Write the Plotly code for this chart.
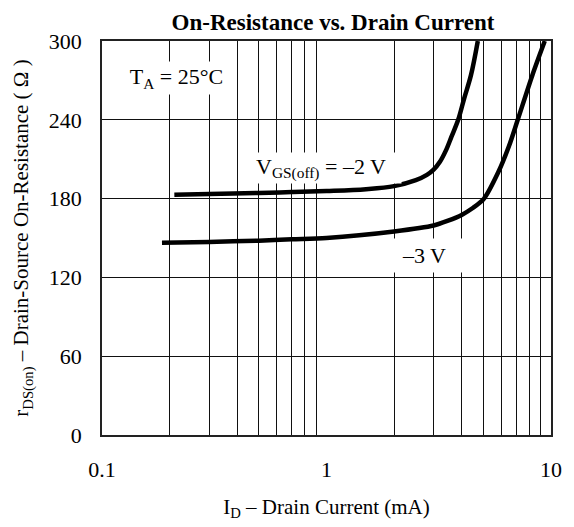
import plotly.graph_objects as go
import math

# Data
x_m2 = [0.21, 0.3, 0.5, 0.7, 1.0, 1.5, 2.0, 2.5, 2.8, 3.0, 3.2, 3.4, 3.6, 3.86, 4.1, 4.4, 4.72]
y_m2 = [183, 183.5, 184.3, 185, 185.8, 187.2, 189.5, 194, 198, 202, 208, 216.5, 227, 240, 256, 274, 300]

x_m3 = [0.185, 0.3, 0.5, 0.7, 1.0, 2.0, 3.0, 3.48, 4.0, 4.5, 5.03, 5.82, 6.5, 7.11, 8.26, 9.38]
y_m3 = [146.4, 147, 148, 149, 150, 155, 159.5, 163.2, 167.6, 173, 180, 200, 220, 240, 274, 300]

x_ticks = [0.1, 1, 10]
x_ticktext = ["0.1", "1", "10"]
x_minor = [0.2, 0.3, 0.4, 0.5, 0.6, 0.7, 0.8, 0.9, 2, 3, 4, 5, 6, 7, 8, 9]
y_ticks = [0, 60, 120, 180, 240, 300]

FONT = "Liberation Serif, Times New Roman, serif"

fig = go.Figure()
fig.add_trace(go.Scatter(x=x_m2, y=y_m2, mode="lines", line=dict(color="black", width=4.5, shape="spline", smoothing=1.0),
                         showlegend=False, hoverinfo="skip"))
fig.add_trace(go.Scatter(x=x_m3, y=y_m3, mode="lines", line=dict(color="black", width=4.5, shape="spline", smoothing=0.8),
                         showlegend=False, hoverinfo="skip"))

fig.update_layout(
    width=574, height=527,
    margin=dict(l=102, r=12, t=41, b=80),
    paper_bgcolor="white", plot_bgcolor="white",
    font=dict(family=FONT, color="black", size=22),
    title=dict(text="<b>On-Resistance vs. Drain Current</b>", x=333/574, xanchor="center",
               y=1 - 22/527, yanchor="middle", font=dict(family=FONT, size=23, color="black")),
    xaxis=dict(type="log", range=[-1, 1], tickvals=x_ticks, ticktext=x_ticktext,
               showgrid=False, zeroline=False, showline=True, linecolor="#222", linewidth=1.6,
               mirror=True, ticks="", ticklabelstandoff=14, tickfont=dict(size=22),
               minor=dict(tickvals=x_minor, showgrid=True, gridcolor="#111", gridwidth=1.2, ticks=""),
               title=dict(text="I<sub>D</sub> – Drain Current (mA)", font=dict(size=21), standoff=18)),
    yaxis=dict(range=[0, 300], tickvals=y_ticks, showgrid=True, gridcolor="#111", gridwidth=1.2,
               zeroline=False, showline=True, linecolor="#222", linewidth=1.6, mirror=True,
               ticks="", ticklabelstandoff=14, tickfont=dict(size=22),
               title=dict(text="r<sub>DS(on)</sub> – Drain-Source On-Resistance ( Ω )", font=dict(size=21), standoff=14)),
)

fig.add_annotation(x=math.log10(0.214), y=272, text="T<sub>A</sub> = 25°C", showarrow=False,
                   bgcolor="white", width=115, height=30, font=dict(size=22))
fig.add_annotation(x=-0.024, y=203, text="V<sub>GS(off)</sub> = –2 V", showarrow=False,
                   bgcolor="white", width=158, height=28, font=dict(size=22))
fig.add_annotation(x=0.435, y=137, text="–3 V", showarrow=False,
                   bgcolor="white", width=84, height=31, font=dict(size=22))

fig.write_html("out.html", config={"displayModeBar": False},
               post_script="document.body.style.margin='0px';")
